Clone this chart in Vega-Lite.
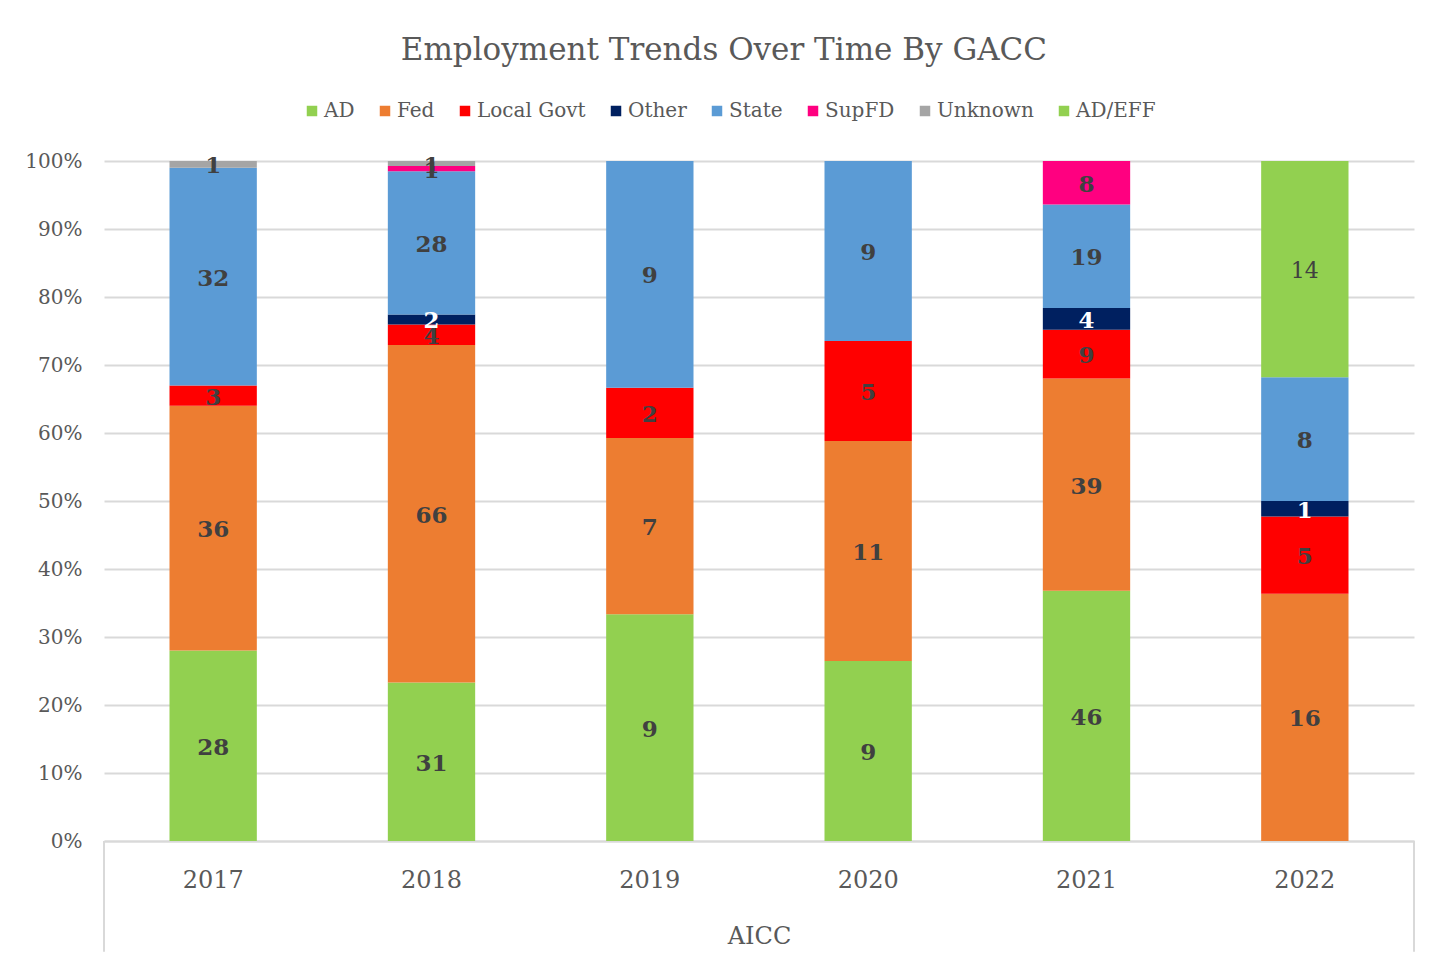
{
  "$schema": "https://vega.github.io/schema/vega-lite/v6.json",
  "autosize": {"type": "none"},
  "width": 1310,
  "height": 680,
  "padding": {"left": 104, "top": 161, "right": 29, "bottom": 123},
  "background": "white",
  "title": {
    "text": "Employment Trends Over Time By GACC",
    "font": "DejaVu Serif",
    "fontSize": 31,
    "fontWeight": "normal",
    "color": "#595959",
    "anchor": "middle",
    "frame": "bounds",
    "offset": 34,
    "dx": 4
  },
  "config": {
    "view": {"stroke": null},
    "font": "DejaVu Serif"
  },
  "data": {
    "values": [
      {"year": "2017", "cat": "AD", "n": 28},
      {"year": "2017", "cat": "Fed", "n": 36},
      {"year": "2017", "cat": "Local Govt", "n": 3},
      {"year": "2017", "cat": "State", "n": 32},
      {"year": "2017", "cat": "Unknown", "n": 1},
      {"year": "2018", "cat": "AD", "n": 31},
      {"year": "2018", "cat": "Fed", "n": 66},
      {"year": "2018", "cat": "Local Govt", "n": 4},
      {"year": "2018", "cat": "Other", "n": 2},
      {"year": "2018", "cat": "State", "n": 28},
      {"year": "2018", "cat": "SupFD", "n": 1},
      {"year": "2018", "cat": "Unknown", "n": 1},
      {"year": "2019", "cat": "AD", "n": 9},
      {"year": "2019", "cat": "Fed", "n": 7},
      {"year": "2019", "cat": "Local Govt", "n": 2},
      {"year": "2019", "cat": "State", "n": 9},
      {"year": "2020", "cat": "AD", "n": 9},
      {"year": "2020", "cat": "Fed", "n": 11},
      {"year": "2020", "cat": "Local Govt", "n": 5},
      {"year": "2020", "cat": "State", "n": 9},
      {"year": "2021", "cat": "AD", "n": 46},
      {"year": "2021", "cat": "Fed", "n": 39},
      {"year": "2021", "cat": "Local Govt", "n": 9},
      {"year": "2021", "cat": "Other", "n": 4},
      {"year": "2021", "cat": "State", "n": 19},
      {"year": "2021", "cat": "SupFD", "n": 8},
      {"year": "2022", "cat": "Fed", "n": 16},
      {"year": "2022", "cat": "Local Govt", "n": 5},
      {"year": "2022", "cat": "Other", "n": 1},
      {"year": "2022", "cat": "State", "n": 8},
      {"year": "2022", "cat": "AD/EFF", "n": 14}
    ]
  },
  "resolve": {"scale": {"x": "independent"}, "axis": {"x": "independent"}},
  "layer": [
    {
      "encoding": {
        "x": {
          "field": "year",
          "type": "nominal",
          "scale": {"paddingInner": 0.6, "paddingOuter": 0.3},
          "axis": {
            "title": "AICC",
            "titleFont": "DejaVu Serif",
            "titleFontSize": 24,
            "titleFontWeight": "normal",
            "titleColor": "#595959",
            "titlePadding": 32,
            "labelFont": "DejaVu Serif",
            "labelFontSize": 24,
            "labelColor": "#595959",
            "labelAngle": 0,
            "labelPadding": 27,
            "ticks": false,
            "domainColor": "#d9d9d9",
            "domainWidth": 2,
            "grid": false
          }
        },
        "y": {
          "field": "n",
          "type": "quantitative",
          "stack": "normalize",
          "scale": {"domain": [0, 1], "nice": false},
          "axis": {
            "title": null,
            "format": ".0%",
            "values": [0, 0.1, 0.2, 0.3, 0.4, 0.5, 0.6, 0.7, 0.8, 0.9, 1],
            "labelFont": "DejaVu Serif",
            "labelFontSize": 20,
            "labelColor": "#595959",
            "labelPadding": 22,
            "ticks": false,
            "domain": false,
            "grid": true,
            "gridColor": "#d9d9d9",
            "gridWidth": 2
          }
        },
        "order": {"field": "year", "type": "nominal"}
      },
      "layer": [
        {
          "mark": {"type": "bar"},
          "encoding": {
            "color": {
              "field": "cat",
              "type": "nominal",
              "scale": {
                "domain": ["AD", "Fed", "Local Govt", "Other", "State", "SupFD", "Unknown", "AD/EFF"],
                "range": ["#92D050", "#ED7D31", "#FF0000", "#002060", "#5B9BD5", "#FF0080", "#A5A5A5", "#92D050"]
              },
              "legend": {
                "title": null,
                "orient": "none",
                "direction": "horizontal",
                "legendX": 198,
                "legendY": -60,
                "symbolType": "square",
                "symbolSize": 110,
                "symbolStrokeWidth": 0,
                "labelFont": "DejaVu Serif",
                "labelFontSize": 20,
                "labelColor": "#595959",
                "labelOffset": 2,
                "columnPadding": 20
              }
            }
          }
        },
        {
          "mark": {"type": "text", "font": "DejaVu Serif", "fontSize": 23, "fontWeight": "bold", "baseline": "middle", "dy": 2},
          "encoding": {
            "y": {"field": "n", "type": "quantitative", "stack": "normalize", "bandPosition": 0.5},
            "detail": {"field": "cat", "type": "nominal"},
            "text": {"field": "n", "type": "quantitative"},
            "color": {"condition": {"test": "datum.cat === 'Other'", "value": "white"}, "value": "#404040"},
            "opacity": {"condition": {"test": "datum.cat === 'AD/EFF'", "value": 0}, "value": 1}
          }
        },
        {
          "mark": {"type": "text", "font": "DejaVu Serif", "fontSize": 22, "fontWeight": "normal", "baseline": "middle", "color": "#404040", "dy": 2},
          "encoding": {
            "y": {"field": "n", "type": "quantitative", "stack": "normalize", "bandPosition": 0.5},
            "detail": {"field": "cat", "type": "nominal"},
            "text": {"field": "n", "type": "quantitative"},
            "opacity": {"condition": {"test": "datum.cat === 'AD/EFF'", "value": 1}, "value": 0}
          }
        }
      ]
    },
    {
      "data": {"values": [{}]},
      "mark": {"type": "rule", "color": "#d9d9d9", "strokeWidth": 2},
      "encoding": {
        "x": {"datum": 0, "type": "quantitative", "scale": {"domain": [0, 1]}, "axis": null},
        "y": {"datum": 0, "type": "quantitative"},
        "y2": {"datum": -0.163}
      }
    },
    {
      "data": {"values": [{}]},
      "mark": {"type": "rule", "color": "#d9d9d9", "strokeWidth": 2},
      "encoding": {
        "x": {"datum": 1, "type": "quantitative", "scale": {"domain": [0, 1]}, "axis": null},
        "y": {"datum": 0, "type": "quantitative"},
        "y2": {"datum": -0.163}
      }
    }
  ]
}
